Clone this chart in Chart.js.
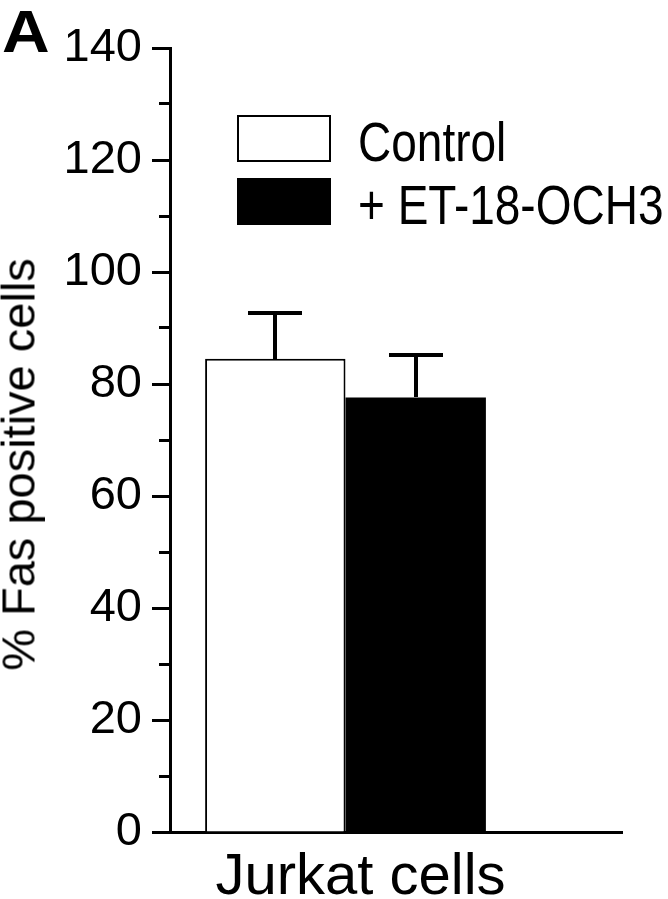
<!DOCTYPE html>
<html><head><meta charset="utf-8">
<script src="https://cdn.jsdelivr.net/npm/chart.js@4.4.0/dist/chart.umd.min.js"></script>
<style>
html,body{margin:0;padding:0;background:#fff;}
#wrap{position:relative;width:668px;height:899px;overflow:hidden;font-family:'Liberation Sans',Arial,sans-serif;color:#000;background:#fff;}
#c{position:absolute;left:0;top:0;}
.ov{position:absolute;line-height:1;white-space:nowrap;}
</style></head><body>
<div id="wrap">
<canvas id="c" width="668" height="899"></canvas>
<div id="panel" class="ov"></div>
<div id="ytitle" class="ov"></div>
<div id="legend"></div>
</div>
<script>
// ---- data ----
const categories = ['Jurkat cells'];
const seriesLabels = ['Control', '+ ET-18-OCH3'];
const controlValues = [84.5];
const controlErrors = [8.1];
const treatedValues = [77.6];
const treatedErrors = [7.5];
const yTitle = '% Fas positive cells';
const panelLabel = 'A';
const yMin = 0, yMax = 140, yMajorStep = 20, yMinorStep = 10;

const FONT = "'Liberation Sans', Arial, Helvetica, sans-serif";

const errorBars = {
  id: 'errorBars',
  afterDatasetsDraw(chart) {
    const ctx = chart.ctx, ys = chart.scales.y;
    chart.data.datasets.forEach((ds, i) => {
      const meta = chart.getDatasetMeta(i);
      meta.data.forEach((bar, j) => {
        const top = Math.round(ys.getPixelForValue(ds.data[j] + ds.errors[j]));
        const cx = Math.round(bar.x);
        ctx.save();
        ctx.fillStyle = '#000';
        ctx.fillRect(cx - 2, top, 4, Math.round(bar.y) - top);
        ctx.fillRect(cx - 27, top - 2, 54, 4);
        ctx.restore();
      });
    });
  }
};

const axisExtras = {
  id: 'axisExtras',
  afterDraw(chart) {
    const ctx = chart.ctx, ys = chart.scales.y, a = chart.chartArea;
    ctx.save();
    ctx.fillStyle = '#000';
    ys.ticks.forEach(t => {
      if (t.value % yMajorStep !== 0) {
        const p = Math.round(ys.getPixelForValue(t.value) - 1.5);
        ctx.fillRect(Math.round(a.left) - 11, p, 11, 3);
      }
    });
    const b = Math.round(ys.getPixelForValue(yMin) - 1.5);
    ctx.fillRect(Math.round(a.right) - 2, b, 104, 3);
    ctx.restore();
  }
};

const chart = new Chart(document.getElementById('c'), {
  type: 'bar',
  data: {
    labels: categories,
    datasets: [
      { label: seriesLabels[0], data: controlValues, errors: controlErrors,
        backgroundColor: '#ffffff', borderColor: '#000000', borderWidth: 2,
        categoryPercentage: 0.8, barPercentage: 1.0 },
      { label: seriesLabels[1], data: treatedValues, errors: treatedErrors,
        backgroundColor: '#000000', borderColor: '#000000', borderWidth: 0,
        categoryPercentage: 0.8, barPercentage: 1.0 }
    ]
  },
  options: {
    responsive: false,
    animation: false,
    devicePixelRatio: 1,
    layout: { padding: { top: 48, right: 147, left: 0, bottom: 0 } },
    plugins: { legend: { display: false }, tooltip: { enabled: false } },
    scales: {
      x: {
        type: 'category',
        offset: true,
        grid: { display: false, drawTicks: false },
        border: { display: true, color: '#000', width: 3 },
        ticks: { font: { family: FONT, size: 58 }, color: '#000', padding: 11, labelOffset: 15, maxRotation: 0 },
        afterFit(s) { s.height = 67; }
      },
      y: {
        min: yMin, max: yMax,
        grid: {
          display: true, drawOnChartArea: false, drawTicks: true, tickLength: 18, tickWidth: 3,
          tickColor: c => (c.tick && c.tick.value % yMajorStep === 0) ? '#000' : 'rgba(0,0,0,0)'
        },
        border: { display: true, color: '#000', width: 3 },
        ticks: {
          stepSize: yMinorStep, autoSkip: false, font: { family: FONT, size: 47 }, color: '#000', padding: 10,
          callback: v => (v % yMajorStep === 0 ? String(v) : '')
        },
        afterFit(s) { s.width = 170; }
      }
    }
  },
  plugins: [errorBars, axisExtras]
});

// ---- overlay texts ----
const panel = document.getElementById('panel');
panel.textContent = panelLabel;
Object.assign(panel.style, { left: '2px', top: '2px', fontSize: '60px', fontWeight: 'bold',
  transform: 'scaleX(1.1)', transformOrigin: '0 0' });

const yt = document.getElementById('ytitle');
yt.textContent = yTitle;
const cx = 17.5, cy = 464, fs = 47;
Object.assign(yt.style, {
  width: '500px', textAlign: 'center', fontSize: fs + 'px', height: fs + 'px',
  left: (cx - 250) + 'px', top: (cy - fs / 2) + 'px', transform: 'rotate(-90deg)'
});

// HTML legend from datasets
const legendEl = document.getElementById('legend');
chart.data.datasets.forEach((ds, i) => {
  const boxTop = 115 + i * 63;
  const box = document.createElement('div');
  Object.assign(box.style, {
    position: 'absolute', left: '237px', top: boxTop + 'px', width: '94px', height: '47px',
    boxSizing: 'border-box', background: ds.backgroundColor,
    border: (ds.borderWidth ? ds.borderWidth : 0) + 'px solid ' + ds.borderColor
  });
  legendEl.appendChild(box);
  const t = document.createElement('div');
  t.className = 'ov';
  t.textContent = ds.label;
  Object.assign(t.style, {
    left: '358px', top: (boxTop - 2.3) + 'px', fontSize: '46px',
    transform: 'scaleY(1.22)', transformOrigin: '0 0'
  });
  legendEl.appendChild(t);
});
</script>
</body></html>
